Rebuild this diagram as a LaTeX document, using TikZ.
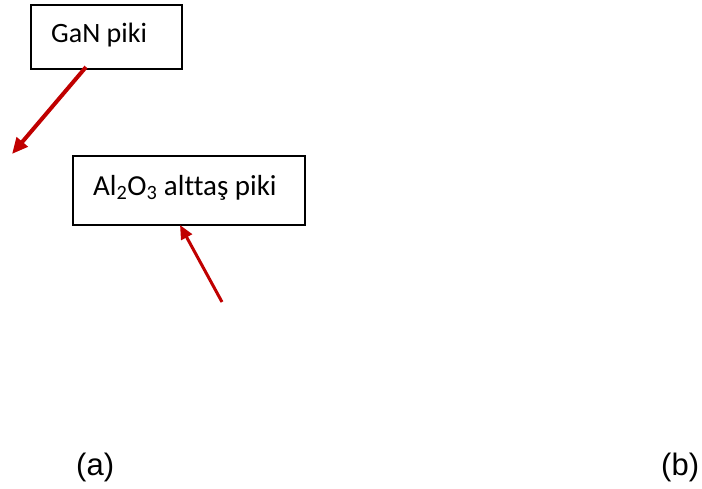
\documentclass[tikz,border=0pt]{standalone}
\usepackage{fontspec}
\setmainfont[Ligatures=NoCommon]{Carlito}
\newfontfamily\arialfont{Liberation Sans}
\usetikzlibrary{arrows.meta}
\definecolor{arrred}{HTML}{C00000}
\begin{document}
\begin{tikzpicture}[x=1pt,y=-1pt,
  box/.style={draw=black,line width=1.5pt,inner sep=0pt,anchor=north west},
  lbl/.style={font=\fontsize{28}{32}\selectfont,inner sep=0pt,anchor=base west},
  captxt/.style={font=\arialfont\fontsize{31}{35}\selectfont,inner sep=0pt,anchor=base west},
  thickarrow/.style={draw=arrred,line width=4pt,-{Triangle[length=16pt,width=14pt]}},
  thinarrow/.style={draw=arrred,line width=3pt,-{Triangle[length=14pt,width=12pt]}}]
\useasboundingbox (0,0) rectangle (702,488);
\node[box,minimum width=151pt,minimum height=64pt] (gan) at (30,4) {};
\node[lbl] (gantext) at (51,42) {GaN piki};
\node[box,minimum width=232pt,minimum height=69pt] (al) at (72,155) {};
\node[lbl,font=\fontsize{29}{33}\selectfont] (altext) at (93,195) {Al\textsubscript{2}O\textsubscript{3} alttaş piki};
\coordinate (tip1) at (12,154);
\coordinate (start1) at (86,67);
\coordinate (start2) at (222,302);
\coordinate (tip2) at (180,225);
\draw[thickarrow] (start1) -- (tip1);
\draw[thinarrow] (start2) -- (tip2);
\node[captxt] (a) at (76,475) {(a)};
\node[captxt] (b) at (661,475) {(b)};
\end{tikzpicture}
\end{document}
